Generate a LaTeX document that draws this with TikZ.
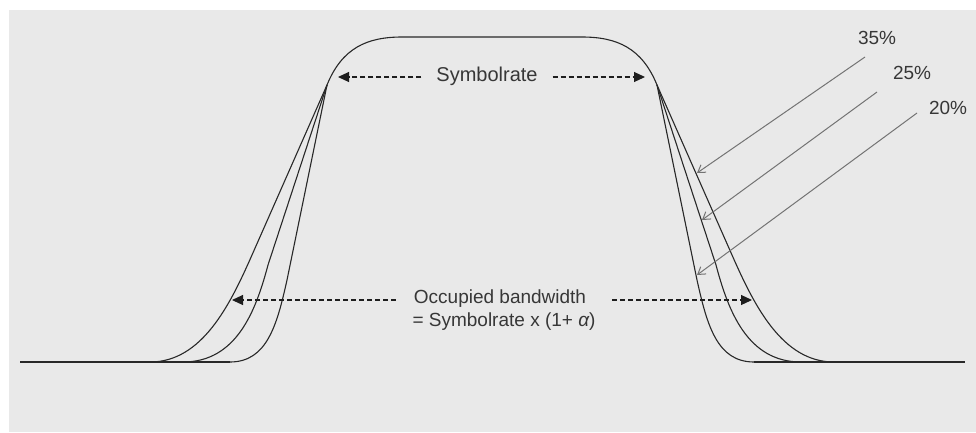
\documentclass[tikz,border=0pt]{standalone}
\usepackage{fontspec}
\setmainfont{Liberation Sans}
\usetikzlibrary{arrows.meta,positioning}

\begin{document}
\begin{tikzpicture}[x=1pt,y=-1pt,
  curve/.style={draw={rgb,255:red,40;green,40;blue,40},line width=1.1pt},
  measure/.style={draw={rgb,255:red,30;green,30;blue,30},line width=1.1pt,dash pattern=on 5pt off 3pt,-{Triangle[length=11pt,width=10pt]}},
  leader/.style={draw={rgb,255:red,115;green,115;blue,115},line width=1pt,-{Straight Barb[length=7pt,width=9pt]}},
  label/.style={inner sep=0pt,outer sep=0pt,text={rgb,255:red,55;green,55;blue,55},font=\fontsize{19}{22}\selectfont}]
\path[use as bounding box] (0,0) rectangle (976,432);
\fill[white] (0,0) rectangle (976,432);
\fill[fill={rgb,255:red,233;green,233;blue,233}] (9,10) rectangle (976,432);
% roll-off flanks, mirrored about the centre
\begin{scope}[shift={(492,0)}]
\foreach \s in {1,-1}{
  \begin{scope}[xscale=\s]
  \draw[curve] (165,85) -- (240,255) .. controls (262,305) and (290,362) .. (342,362);
  \draw[curve] (165,85) -- (224,265) .. controls (236,310) and (255,362) .. (309,362);
  \draw[curve] (165,85) -- (205,280) .. controls (215,325) and (225,362) .. (262,362);
  \end{scope}}
\draw[curve] (-165,85) .. controls (-150,48) and (-125,37) .. (-90,37) -- (90,37) .. controls (125,37) and (150,48) .. (165,85);
\draw[curve] (-472,362) -- (-262,362);
\draw[curve] (262,362) -- (473,362);
\end{scope}
% measures
\node[label,font=\fontsize{20}{23}\selectfont] (sym) at (487,76) {Symbolrate};
\coordinate (symL) at (338,77);
\coordinate (symR) at (645,77);
\draw[measure] ([xshift=-15pt]sym.west |- symL) -- (symL);
\draw[measure] ([xshift=15pt]sym.east |- symR) -- (symR);
\node[label] (occ) at (500,299) {Occupied bandwidth};
\node[label,below=5pt of occ,xshift=4pt] (occeq) {= Symbolrate x (1+ {\itshape α})};
\coordinate (occL) at (232,300);
\coordinate (occR) at (752,300);
\draw[measure] ([xshift=-18pt]occ.west |- occL) -- (occL);
\draw[measure] ([xshift=26pt]occ.east |- occR) -- (occR);
% roll-off factors
\node[label] (p35) at (877,38) {35\%};
\node[label] (p25) at (912,73) {25\%};
\node[label] (p20) at (948,108) {20\%};
\coordinate (s35) at (865,57);
\coordinate (s25) at (877,92);
\coordinate (s20) at (917,113);
\coordinate (t35) at (697,173);
\coordinate (t25) at (702,220);
\coordinate (t20) at (697,275);
\draw[leader] (s35) -- (t35);
\draw[leader] (s25) -- (t25);
\draw[leader] (s20) -- (t20);
\end{tikzpicture}
\end{document}
